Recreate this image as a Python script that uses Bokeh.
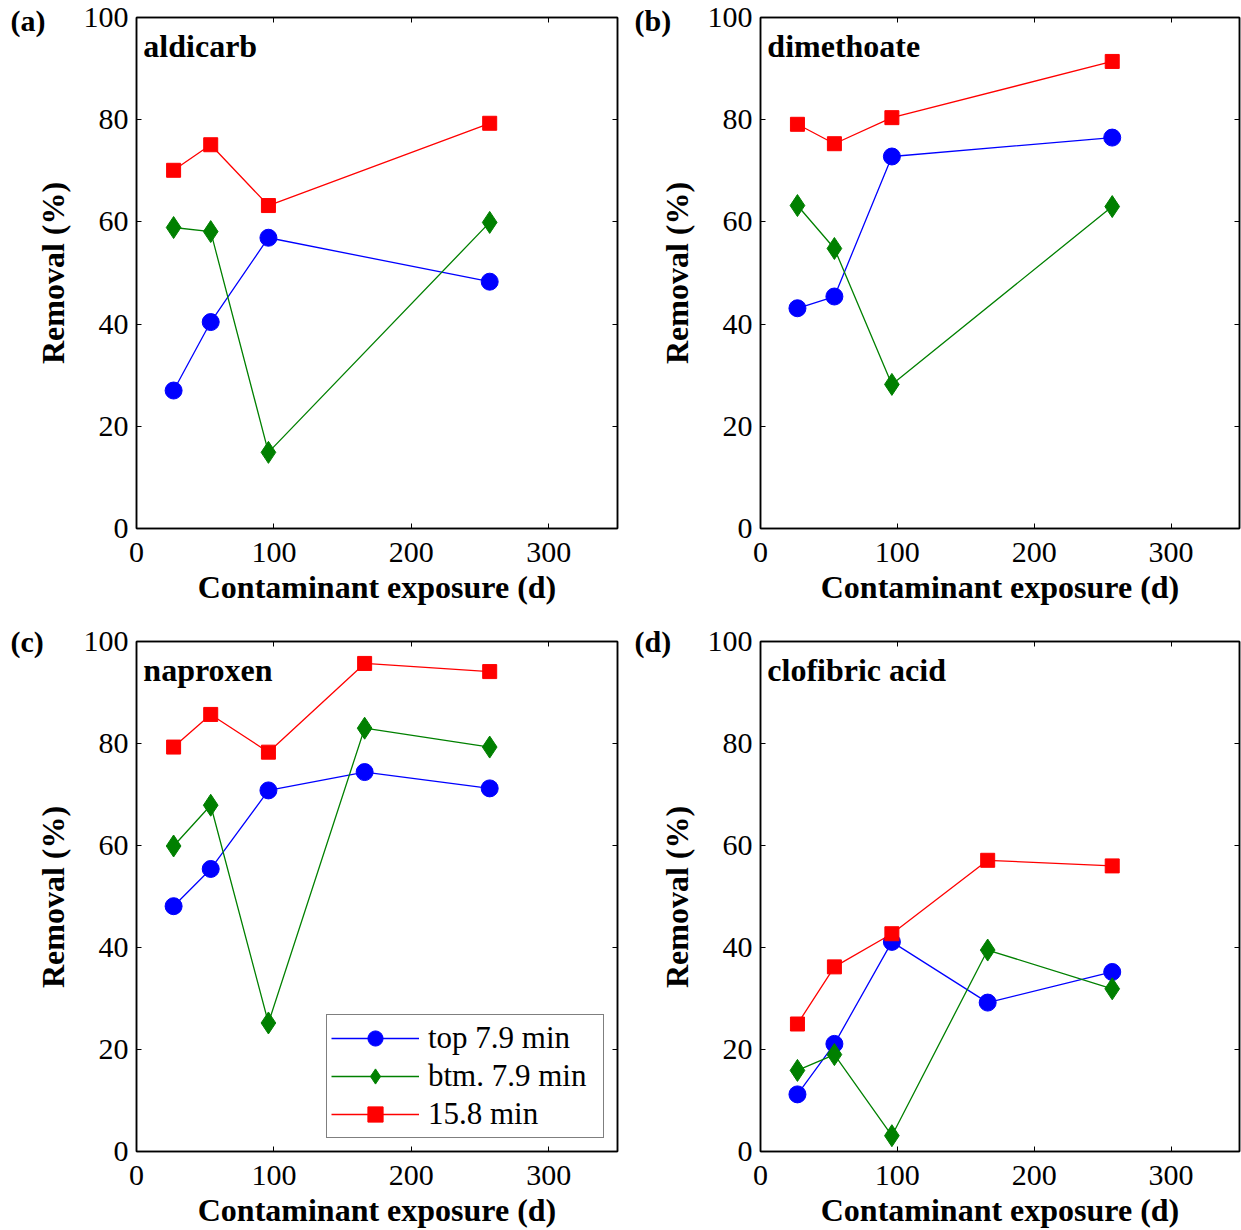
import math
from bokeh.plotting import figure
from bokeh.layouts import column, row
from bokeh.models import Label, LinearAxis, Range1d, Legend, LegendItem, FixedTicker
from bokeh.embed import file_html
from bokeh.resources import INLINE

# ---- data ----
days5 = [27, 54, 96, 166, 257]
days4 = [27, 54, 96, 257]

ald_top = [27.0, 40.4, 56.9, 48.3]
ald_btm = [58.9, 58.1, 14.9, 59.9]
ald_158 = [70.1, 75.1, 63.2, 79.3]

dim_top = [43.1, 45.4, 72.8, 76.5]
dim_btm = [63.2, 54.8, 28.2, 63.0]
dim_158 = [79.1, 75.3, 80.4, 91.4]

nap_top = [48.1, 55.4, 70.8, 74.4, 71.2]
nap_btm = [59.9, 67.9, 25.2, 83.0, 79.3]
nap_158 = [79.3, 85.7, 78.3, 95.7, 94.1]

clo_top = [11.2, 21.1, 41.1, 29.2, 35.2]
clo_btm = [15.9, 19.0, 3.1, 39.5, 31.9]
clo_158 = [25.0, 36.2, 42.7, 57.1, 56.0]

series_names = ["top 7.9 min", "btm. 7.9 min", "15.8 min"]
x_ticks = [0, 100, 200, 300]
y_ticks = [0, 20, 40, 60, 80, 100]
x_title = "Contaminant exposure (d)"
y_title = "Removal (%)"

FONT = "Liberation Serif"
COLORS = ["#0000ff", "#008000", "#ff0000"]
MARKERS = ["circle", "diamond", "square"]
SIZES = [17, 22, 14]


def make_fig(letter, name, xs, ys, width, height, bl, br, bt, bb, lx, ly, yl_x, legend=False):
    p = figure(width=width, height=height, output_backend="svg", toolbar_location=None,
               x_range=Range1d(0, 350), y_range=Range1d(0, 100),
               min_border_left=bl, min_border_right=br, min_border_top=bt, min_border_bottom=bb)
    p.xgrid.visible = False
    p.ygrid.visible = False
    p.outline_line_color = "black"
    p.outline_line_width = 1.5
    p.background_fill_color = "white"

    for ax, ticks in ((p.xaxis[0], x_ticks), (p.yaxis[0], y_ticks)):
        ax.ticker = FixedTicker(ticks=ticks)
        ax.axis_label_text_font = FONT
        ax.axis_label_text_font_style = "bold"
        ax.axis_label_text_font_size = "32px"
        ax.axis_label_text_color = "black"
        ax.major_label_text_font = FONT
        ax.major_label_text_font_size = "30px"
        ax.major_label_text_color = "black"
        ax.major_tick_in = 5
        ax.major_tick_out = 0
        ax.minor_tick_line_color = None
        ax.axis_line_width = 1.5
        ax.major_tick_line_width = 1
    p.xaxis.axis_label = x_title
    p.xaxis.major_label_standoff = 14
    p.xaxis.axis_label_standoff = 4
    p.yaxis.major_label_standoff = 8

    for side, ticks in (("above", x_ticks), ("right", y_ticks)):
        ax = LinearAxis(ticker=FixedTicker(ticks=ticks), major_label_text_font_size="0px",
                        major_label_standoff=0, major_tick_in=5, major_tick_out=0,
                        minor_tick_line_color=None, axis_line_width=1.5)
        ax.major_label_text_color = None
        p.add_layout(ax, side)

    items = []
    for name_s, yv, col, mk, sz in zip(series_names, ys, COLORS, MARKERS, SIZES):
        ln = p.line(xs, yv, line_color=col, line_width=1.3)
        sc = p.scatter(xs, yv, marker=mk, size=sz, fill_color=col, line_color=col)
        items.append(LegendItem(label=name_s, renderers=[ln, sc]))

    if legend:
        lg = Legend(items=items, location="bottom_right", border_line_color="black",
                    border_line_width=1.2, label_text_font=FONT, label_text_font_size="31px",
                    label_text_color="black",
                    glyph_width=88, glyph_height=38, label_height=35, label_width=171,
                    spacing=0, padding=4, margin=13, label_standoff=9,
                    background_fill_alpha=1)
        p.add_layout(lg)

    p.add_layout(Label(x=5.0, y=94.4, text=name, text_font=FONT, text_font_style="bold",
                       text_font_size="32px", text_baseline="middle", text_align="left",
                       text_color="black"))
    frame_mid = bt + (height - bt - bb) / 2
    p.add_layout(Label(x=yl_x, y=frame_mid, x_units="canvas", y_units="canvas", text=y_title,
                       angle=math.pi / 2, text_font=FONT, text_font_style="bold",
                       text_color="black", text_font_size="32px", text_baseline="middle",
                       text_align="center"), "left")
    p.add_layout(Label(x=lx, y=ly, x_units="canvas", y_units="canvas", text=letter,
                       text_font=FONT, text_font_style="bold", text_color="black",
                       text_font_size="30px", text_baseline="middle", text_align="left"),
                 "left")
    return p


pa = make_fig("(a)", "aldicarb", days4, [ald_top, ald_btm, ald_158],
              621, 620, 136, 4, 17, 92, 10, 20, 52)
pb = make_fig("(b)", "dimethoate", days4, [dim_top, dim_btm, dim_158],
              620, 620, 139, 2, 17, 92, 13, 20, 55)
pc = make_fig("(c)", "naproxen", days5, [nap_top, nap_btm, nap_158],
              621, 610, 136, 4, 21, 78, 10, 21, 52, legend=True)
pd_ = make_fig("(d)", "clofibric acid", days5, [clo_top, clo_btm, clo_158],
               620, 610, 139, 2, 21, 78, 13, 21, 55)

layout = column(row(pa, pb), row(pc, pd_))
open("out.html", "w").write(file_html(layout, INLINE))
